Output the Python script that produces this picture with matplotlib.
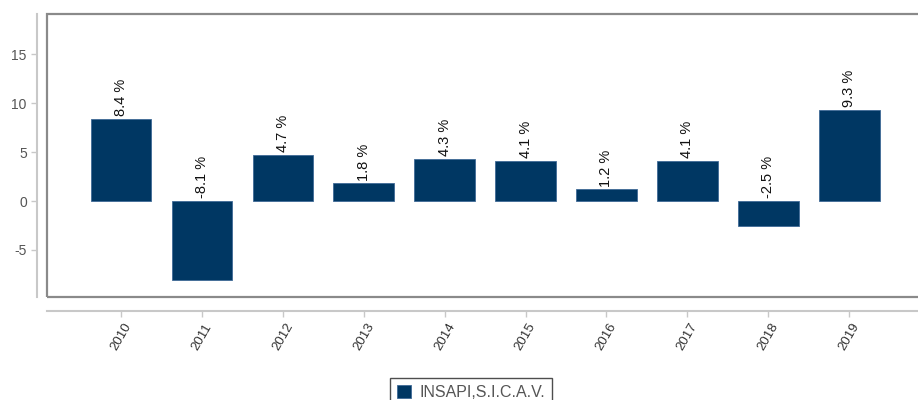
import matplotlib.pyplot as plt
from matplotlib.patches import Rectangle
import numpy as np

plt.rcParams['font.family'] = ['Liberation Sans', 'DejaVu Sans']
plt.rcParams['axes.unicode_minus'] = False

# datos
anios = ['2010', '2011', '2012', '2013', '2014', '2015', '2016', '2017', '2018', '2019']
rentabilidad = [8.4, -8.1, 4.7, 1.8, 4.3, 4.1, 1.2, 4.1, -2.5, 9.3]
serie = 'INSAPI,S.I.C.A.V.'

azul = '#003763'
gris = '#c8c8c8'

fig = plt.figure(figsize=(9.18, 4), dpi=100)
ax = fig.add_axes([47 / 918, 1 - 297 / 400, 1 - 47 / 918, (297 - 14) / 400])

x = np.arange(len(anios))
barras = ax.bar(x, rentabilidad, width=0.75, color=azul, edgecolor='#3f6a96',
                linewidth=0.6, label=serie, zorder=2)

# etiquetas de valor, siempre encima de la barra (o del cero si es negativa)
for xi, v in zip(x, rentabilidad):
    base = v if v > 0 else 0
    ax.annotate(f'{v} %', (xi, base), xytext=(0, 2), textcoords='offset points',
                rotation=90, ha='center', va='bottom', fontsize=10.5, color='#111111')

ax.set_xlim(-0.915, 9.85)
ax.set_ylim(-9.8, 19.1)
ax.set_yticks([-5, 0, 5, 10, 15])
ax.set_xticks(x)
ax.set_xticklabels(anios)

# marco gris del area de grafico
ax.add_patch(Rectangle((0, 0), 1.02, 1, transform=ax.transAxes, fill=False,
                       edgecolor='#8a8a8a', linewidth=1.6, clip_on=False, zorder=3))

for s in ['top', 'right']:
    ax.spines[s].set_visible(False)
ax.spines['left'].set_position(('outward', 7))
ax.spines['bottom'].set_position(('outward', 10))
ax.spines['left'].set_color(gris)
ax.spines['bottom'].set_color(gris)
ax.spines['left'].set_linewidth(1.5)
ax.spines['bottom'].set_linewidth(1.5)

ax.tick_params(axis='both', colors=gris, length=4, width=1)
ax.tick_params(axis='y', labelcolor='#555555', labelsize=10)
ax.tick_params(axis='x', labelcolor='#333333', labelsize=9.5, labelrotation=60)

ley = fig.legend(handles=[barras], labels=[serie], loc='upper center',
                 bbox_to_anchor=(0.513, 0.075), fontsize=11.5, frameon=True,
                 fancybox=False, edgecolor='#222222', handlelength=0.9,
                 handleheight=0.9, borderpad=0.45, handletextpad=0.5)
ley.get_frame().set_linewidth(1.0)
for t in ley.get_texts():
    t.set_color('#555555')

fig.savefig('out.png', dpi=100)
